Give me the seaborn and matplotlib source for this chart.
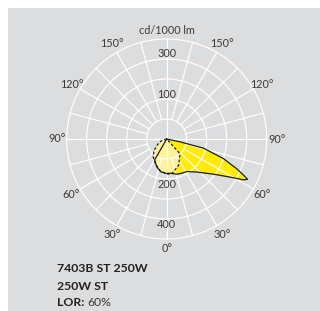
import numpy as np
import matplotlib
matplotlib.use("Agg")
import matplotlib.pyplot as plt
from matplotlib.patches import Rectangle
import seaborn as sns

sns.set_theme(style="white")
plt.rcParams['font.family'] = ['Lato', 'DejaVu Sans']

# ---- data (cd/1000 lm, angle from nadir in degrees; + = C0 side, - = C180 side)
solid_angles = [-31, -30, -20, -10, 0, 6, 16, 24, 32, 42, 53, 59, 62, 63.5, 65, 67, 71, 76, 78, 80]
solid_values = [0, 120, 147, 167, 172, 172, 183, 187, 192, 222, 292, 370, 435, 452, 420, 380, 299, 189, 68, 0]

dashed_angles = [-75, -70, -60, -48, -37, -25, -12, 0, 8, 24, 42, 43]
dashed_values = [0, 30, 50, 85, 112, 135, 162, 175, 177, 145, 100, 0]

ring_values = [100, 200, 300, 400, 500]
angle_labels = [0, 30, 60, 90, 120, 150]
upper_scale_labels = ["100", "300"]
lower_scale_labels = ["200", "400"]
unit_label = "cd/1000 lm"
title_lines = ["7403B ST 250W", "250W ST"]
lor_label, lor_value = "LOR:", "60%"

BG = "#dcdddf"
YELLOW = "#ffec00"
PALE = "#fff29c"
TXT = "#3a3a3a"

W, H = 320, 311
fig = plt.figure(figsize=(W / 100, H / 100), dpi=100)
fig.patch.set_facecolor("white")
fig.patches.append(Rectangle((8 / W, 0), 1 - 8 / W, 1 - 8 / H, transform=fig.transFigure,
                             facecolor=BG, edgecolor="none", zorder=-5))

cx, cy, R = 166.7, 139.0, 100.0
ax = fig.add_axes([(cx - R) / W, (H - cy - R) / H, 2 * R / W, 2 * R / H], projection="polar")
ax.set_zorder(2)
ax.set_theta_zero_location("S")
ax.set_theta_direction(1)
ax.axis("off")
rmax = ring_values[-1]

# fills
th_s = np.deg2rad(solid_angles)
th_d = np.deg2rad(dashed_angles)
ax.fill(th_s, solid_values, color=YELLOW, lw=0, zorder=1)
ax.fill(th_d, dashed_values, color=PALE, lw=0, zorder=1.5)

# grid (white, above fills)
circ = np.linspace(0, 2 * np.pi, 721)
for rv in ring_values:
    ax.plot(circ, np.full_like(circ, rv), color="white", lw=0.85, zorder=2, clip_on=False)
for a in range(0, 360, 15):
    r0 = 0 if a % 90 == 0 else ring_values[0]
    ax.plot([np.deg2rad(a)] * 2, [r0, rmax], color="white", lw=0.85, zorder=2, clip_on=False)

# outlines
sns.lineplot(x=list(th_s) + [th_s[0]], y=solid_values + [solid_values[0]], sort=False,
             estimator=None, color="#1e1e1e", lw=0.9, ax=ax, zorder=3)
sns.lineplot(x=list(th_d) + [th_d[0]], y=dashed_values + [dashed_values[0]], sort=False,
             estimator=None, color="#1e1e1e", lw=0.9, ax=ax, zorder=3)
ax.lines[-1].set_linestyle((0, (2.2, 1.6)))
ax.set_ylim(0, rmax)
ax.axis("off")

# angle labels
fs = 7.8
for a in angle_labels:
    for sgn in ([1] if a == 0 else [1, -1]):
        ax.text(np.deg2rad(sgn * a), rmax * 1.10, f"{a}°", ha="center", va="center",
                fontsize=fs, color=TXT, clip_on=False)
ax.text(np.pi, rmax * 1.09, unit_label, ha="center", va="center", fontsize=fs, color=TXT)
ax.text(np.pi, rmax * 0.445, upper_scale_labels[0], ha="center", va="center", fontsize=fs, color=TXT)
ax.text(np.pi, rmax * 0.855, upper_scale_labels[1], ha="center", va="center", fontsize=fs, color=TXT)
ax.text(0, rmax * 0.455, lower_scale_labels[0], ha="center", va="center", fontsize=fs, color=TXT)
ax.text(0, rmax * 0.85, lower_scale_labels[1], ha="center", va="center", fontsize=fs, color=TXT)

# bottom texts
x0 = 57.0 / W
bfs = 8.8
fig.text(x0, (H - 269) / H, title_lines[0], fontsize=bfs, fontweight="bold", color="#222222",
         ha="left", va="center")
fig.text(x0, (H - 286) / H, title_lines[1], fontsize=bfs, fontweight="bold", color="#222222",
         ha="left", va="center")
t = fig.text(x0, (H - 302) / H, lor_label, fontsize=bfs, fontweight="bold", color="#222222",
             ha="left", va="center")
fig.canvas.draw()
bb = t.get_window_extent(renderer=fig.canvas.get_renderer())
fig.text((bb.x1 + 3) / W, (H - 302) / H, lor_value, fontsize=bfs, color=TXT, ha="left", va="center")

fig.savefig("out.png", dpi=100, facecolor="white")
